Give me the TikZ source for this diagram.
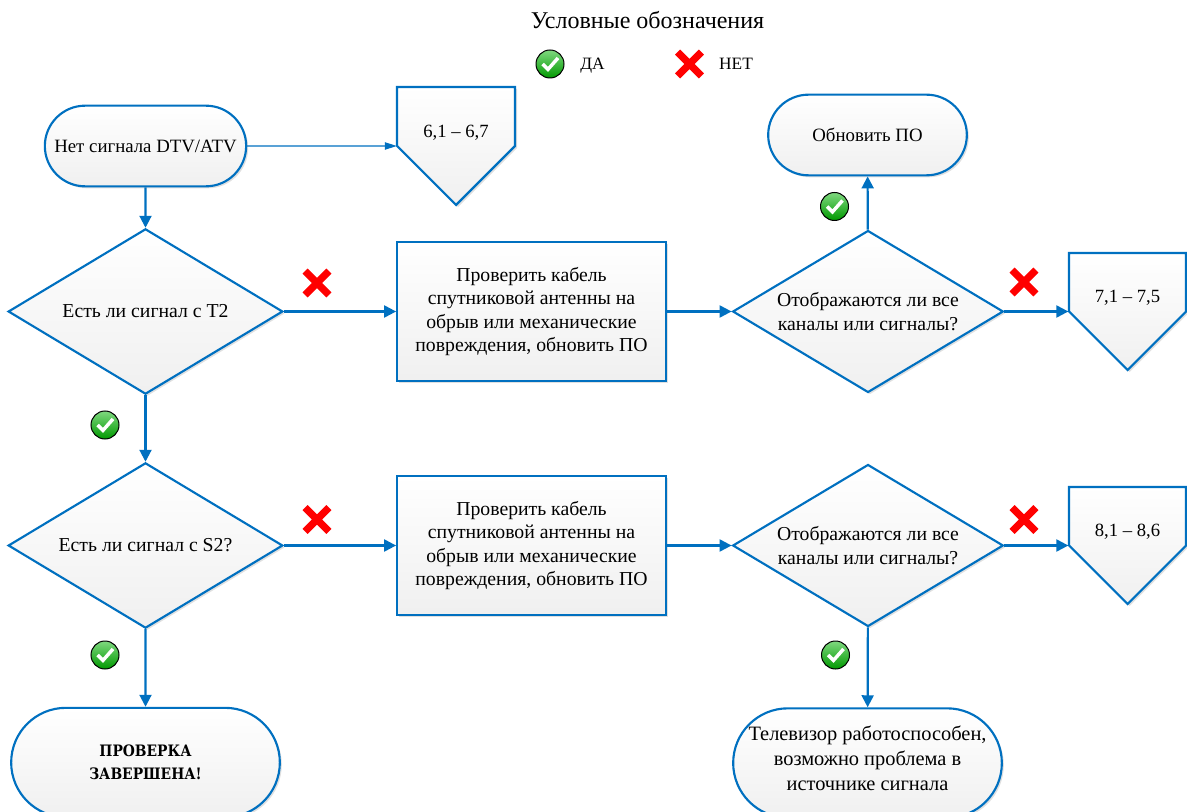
\documentclass[tikz,border=0pt]{standalone}
\usepackage{fontspec}
\setmainfont{Liberation Serif}
\newfontfamily\slabfont[FakeStretch=0.88]{DejaVu Serif}
\usetikzlibrary{arrows.meta,shapes.geometric,shapes.misc,shadows}
\definecolor{flowblue}{RGB}{0,112,192}
\tikzset{every picture/.style={line width=0.75pt}}
\tikzset{
  boxlook/.style={draw=flowblue,line width=1.6pt,top color=white,bottom color=black!6,
    drop shadow={shadow xshift=1.5pt,shadow yshift=-1.5pt,fill=black,opacity=0.12},
    align=center,font=\fontsize{14.8}{17.5}\selectfont,inner sep=0pt},
  startbox/.style={boxlook,rounded rectangle,minimum width=151pt,minimum height=60.5pt,font=\fontsize{14.1}{17.5}\selectfont},
  endbox/.style={boxlook,rounded rectangle,minimum width=201.5pt,minimum height=82pt},
  checkbox/.style={boxlook,rectangle,minimum width=201.5pt,minimum height=104pt,execute at begin node=\rule{0pt}{15pt}},
  askbox/.style={boxlook,diamond,aspect=1.66,minimum width=206pt,minimum height=124pt},
  offtext/.style={minimum width=88pt,minimum height=88pt,inner sep=0pt,font=\fontsize{14}{17.5}\selectfont},
  offfill/.style={draw=flowblue,line width=1.6pt,top color=white,bottom color=black!6,
    drop shadow={shadow xshift=1.5pt,shadow yshift=-1.5pt,fill=black,opacity=0.12}},
  link/.style={draw=flowblue,line width=1.6pt,-{Triangle[length=9pt,width=9pt]}},
  thinlink/.style={draw=flowblue,line width=0.85pt,-{Triangle[length=9pt,width=5.5pt]}},
  yesmark/.style={circle,draw=black,line width=0.75pt,minimum size=21pt,inner sep=0pt,
    top color=green!70!black!50!white,bottom color=green!60!black,
    path picture={\draw[white,line width=2.6pt] ([xshift=-5.5pt,yshift=0pt]path picture bounding box.center) -- ([xshift=-1.5pt,yshift=-4pt]path picture bounding box.center) -- ([xshift=6pt,yshift=4.5pt]path picture bounding box.center);}},
  nomark/.style={cross out,draw=red,line width=5.4pt,minimum size=12.5pt,inner sep=0pt,line cap=butt},
  legendtext/.style={font=\fontsize{13}{14}\selectfont,inner sep=0pt,anchor=base}
}

\begin{document}
\begin{tikzpicture}[x=0.75pt,y=0.75pt,yscale=-1,xscale=1]
\path[use as bounding box,clip] (0,0) rectangle (1187,812);

%Shape: Off-page marks
\draw[offfill] (397,87) -- (515,87) -- (515,146) -- (456,205) -- (397,146) -- cycle;
\draw[offfill] (1069,253) -- (1186,253) -- (1186,311.5) -- (1127.5,370) -- (1069,311.5) -- cycle;
\draw[offfill] (1069,487) -- (1186,487) -- (1186,545.5) -- (1127.5,604) -- (1069,545.5) -- cycle;

%Shape: Terminals
\node[startbox] (nosignal) at (145.5,146) {Нет сигнала DTV/ATV};
\node[startbox,minimum width=149pt] (update) at (867.5,135) {Обновить ПО};
\node[endbox] (finished) at (145.5,762.5) {\slabfont\bfseries\fontsize{11.8}{16}\selectfont ПРОВЕРКА\\\slabfont\bfseries\fontsize{11.8}{16}\selectfont ЗАВЕРШЕНА!};
\node[endbox,font=\fontsize{15.3}{18.5}\selectfont] (works) at (867.5,763) {Телевизор работоспособен,\\возможно проблема в\\источнике сигнала\rule[-7pt]{0pt}{0pt}};

%Shape: Decisions
\node[askbox] (askT) at (145.5,311.5) {Есть ли сигнал с Т2};
\node[askbox] (askS) at (145.5,545.5) {Есть ли сигнал с S2?};
\node[askbox,minimum height=121.5pt,minimum width=203pt] (askAllT) at (868,311.5) {Отображаются ли все\\каналы или сигналы?};
\node[askbox,minimum height=121.5pt,minimum width=203pt] (askAllS) at (868,545.5) {Отображаются ли все\\каналы или сигналы?};

%Shape: Checks
\node[checkbox] (cableT) at (531.5,311.5) {Проверить кабель\\спутниковой антенны на\\обрыв или механические\\повреждения, обновить ПО};
\node[checkbox] (cableS) at (531.5,545.5) {Проверить кабель\\спутниковой антенны на\\обрыв или механические\\повреждения, обновить ПО};

% Text Node
\node[offtext] (firstoff) at (456,146) {\smash{\raisebox{6.5pt}{6,1 – 6,7}}};
\node[offtext] (secondoff) at (1127.5,311.5) {\smash{\raisebox{6.5pt}{7,1 – 7,5}}};
\node[offtext] (thirdoff) at (1127.5,545.5) {\smash{\raisebox{6.5pt}{8,1 – 8,6}}};

%Straight Lines
\draw[thinlink] (nosignal) -- (firstoff.west);
\draw[link] (nosignal) -- (askT);
\draw[link] (askT) -- (cableT);
\draw[link] (cableT) -- (askAllT);
\draw[link] (askAllT) -- (update);
\draw[link] (askAllT) -- (secondoff.west);
\draw[link] (askT) -- (askS);
\draw[link] (askS) -- (cableS);
\draw[link] (cableS) -- (askAllS);
\draw[link] (askAllS) -- (thirdoff.west);
\draw[link] (askAllS) -- (works);
\draw[link] (askS) -- (finished);

%Marks
\node[yesmark] (yesT) at (105,425) {};
\node[yesmark] (yesS) at (105,655) {};
\node[yesmark] (yesAllT) at (834.5,206.5) {};
\node[yesmark] (yesAllS) at (835.5,655) {};
\node[nomark] (noT) at (317,283) {};
\node[nomark] (noS) at (317,519.5) {};
\node[nomark] (noAllT) at (1024,282) {};
\node[nomark] (noAllS) at (1024,519.5) {};

% Legend
\node[font=\fontsize{18}{20}\selectfont,inner sep=0pt] (legendtitle) at (647.5,20) {Условные обозначения};
\node[yesmark] (legendyes) at (550,64) {};
\node[legendtext] (legendyestext) at (592.5,70) {ДА};
\node[nomark] (legendno) at (689.5,64) {};
\node[legendtext] (legendnotext) at (736,70) {НЕТ};

\end{tikzpicture}
\end{document}
